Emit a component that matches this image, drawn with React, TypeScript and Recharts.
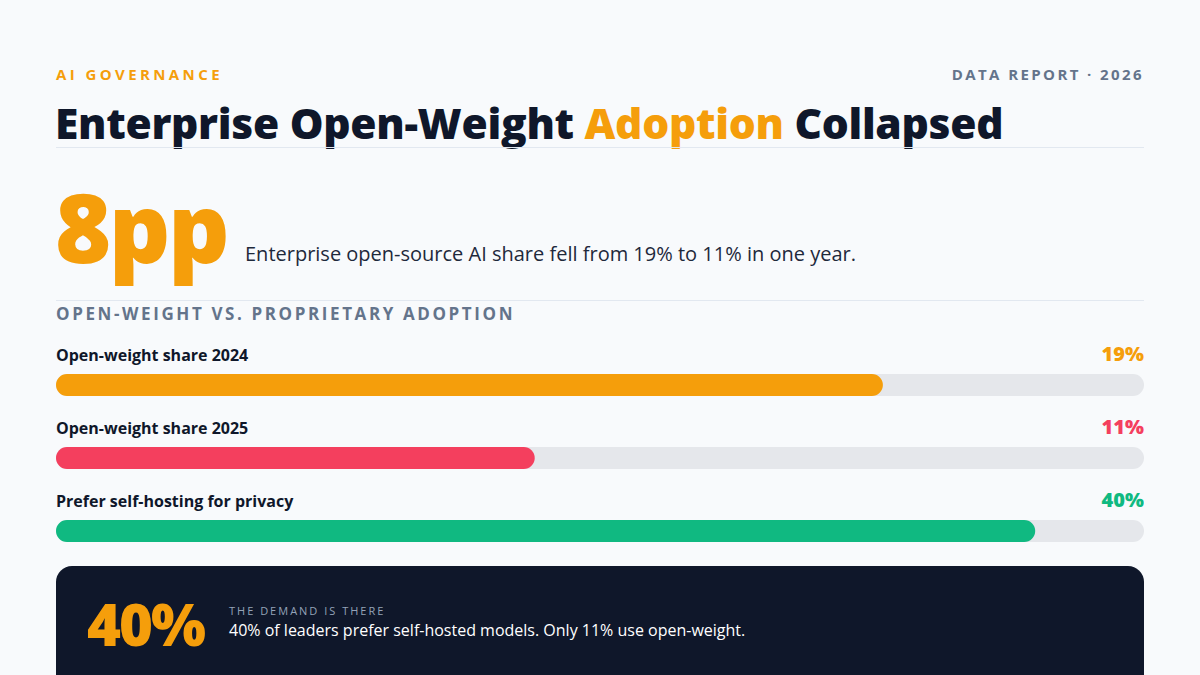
import React from 'react';
import { BarChart, Bar, XAxis, YAxis, Cell, LabelList } from 'recharts';

const categories = ['Open-weight share 2024', 'Open-weight share 2025', 'Prefer self-hosting for privacy'];
const shareValues = [19, 11, 40];
const barFill = [76, 44, 90]; // fill of each track, % of full width
const barColors = ['#f59e0b', '#f43f5e', '#10b981'];

const data = categories.map((name, i) => ({
    name,
    value: shareValues[i],
    fill: barFill[i],
}));

const FONT = '"Open Sans", "Noto Sans", sans-serif';

const RowLabels = (props: any) => {
    const { x, y, width, index } = props;
    const trackEnd = x + (width * 100) / barFill[index];
    return (
        <g>
            <text x={x} y={y - 13} fill="#0f172a" fontSize={16} fontWeight={700} fontFamily={FONT}>
                {categories[index]}
            </text>
            <text x={trackEnd} y={y - 13} textAnchor="end" fill={barColors[index]} fontSize={20} fontWeight={800} fontFamily={FONT}>
                {shareValues[index] + '%'}
            </text>
        </g>
    );
};

const App = () => {
    return (
        <div style={{ position: 'fixed', left: 0, top: 0, width: 1200, height: 675, background: '#f8fafc', fontFamily: FONT, overflow: 'hidden' }}>
            <div style={{ position: 'absolute', left: 56, top: 64, fontSize: 15, fontWeight: 700, letterSpacing: 3.4, color: '#f59e0b' }}>
                AI GOVERNANCE
            </div>
            <div style={{ position: 'absolute', right: 56, top: 64, fontSize: 15, fontWeight: 700, letterSpacing: 2.4, color: '#64748b' }}>
                DATA REPORT · 2026
            </div>
            <div style={{ position: 'absolute', left: 55, top: 93, fontSize: 42.5, fontWeight: 800, color: '#0f172a', lineHeight: '60px', letterSpacing: -0.3, whiteSpace: 'nowrap' }}>
                Enterprise Open-Weight <span style={{ color: '#f59e0b' }}>Adoption</span> Collapsed
            </div>
            <div style={{ position: 'absolute', left: 56, top: 147, width: 1088, height: 1, background: '#e2e8f0' }} />

            <div style={{ position: 'absolute', left: 55, top: 166, fontSize: 96, fontWeight: 800, color: '#f59e0b', lineHeight: '120px', letterSpacing: -2.5 }}>
                8pp
            </div>
            <div style={{ position: 'absolute', left: 245, top: 240, fontSize: 20, color: '#1e293b', lineHeight: '28px', whiteSpace: 'nowrap' }}>
                Enterprise open-source AI share fell from 19% to 11% in one year.
            </div>
            <div style={{ position: 'absolute', left: 56, top: 300, width: 1088, height: 1, background: '#e2e8f0' }} />
            <div style={{ position: 'absolute', left: 56, top: 302, fontSize: 17, fontWeight: 700, letterSpacing: 2.6, color: '#64748b', lineHeight: '24px' }}>
                OPEN-WEIGHT VS. PROPRIETARY ADOPTION
            </div>

            <div style={{ position: 'absolute', left: 56, top: 318 }}>
                <BarChart width={1088} height={249} data={data} layout="vertical" margin={{ top: 30, right: 0, left: 0, bottom: 0 }}>
                    <XAxis type="number" domain={[0, 100]} hide />
                    <YAxis type="category" dataKey="name" hide />
                    <Bar dataKey="fill" barSize={22} radius={11} background={{ fill: '#e5e7eb', radius: 11 }} isAnimationActive={false}>
                        {data.map((d, i) => (
                            <Cell key={d.name} fill={barColors[i]} />
                        ))}
                        <LabelList dataKey="value" content={<RowLabels />} />
                    </Bar>
                </BarChart>
            </div>

            <div style={{ position: 'absolute', left: 56, top: 566, width: 1088, height: 140, background: '#0f172a', borderRadius: 16 }}>
                <div style={{ position: 'absolute', left: 31, top: 20, fontSize: 58, fontWeight: 800, color: '#f59e0b', lineHeight: '76px', letterSpacing: -2 }}>
                    40%
                </div>
                <div style={{ position: 'absolute', left: 173, top: 38, fontSize: 11, color: '#94a3b8', letterSpacing: 2, lineHeight: '14px' }}>
                    THE DEMAND IS THERE
                </div>
                <div style={{ position: 'absolute', left: 173, top: 52, fontSize: 16, color: '#ffffff', lineHeight: '24px', whiteSpace: 'nowrap' }}>
                    40% of leaders prefer self-hosted models. Only 11% use open-weight.
                </div>
            </div>
        </div>
    );
};

export default App;
